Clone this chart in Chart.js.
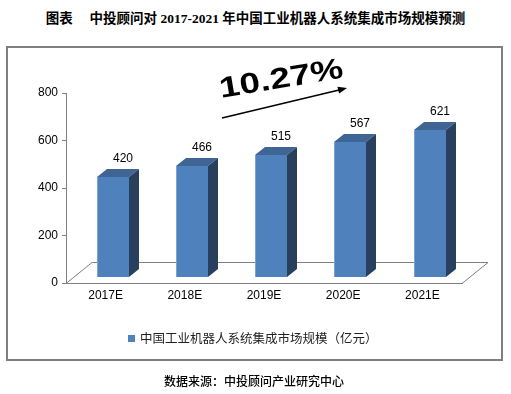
<!DOCTYPE html>
<html lang="zh-CN">
<head>
<meta charset="utf-8">
<title>中投顾问对 2017-2021 年中国工业机器人系统集成市场规模预测</title>
<script src="https://cdn.jsdelivr.net/npm/chart.js@4.4.1/dist/chart.umd.min.js"></script>
<style>
    html, body { margin: 0; padding: 0; background: #fff; }
    #wrap { position: relative; width: 511px; height: 394px; overflow: hidden; }
    #frame { position: absolute; left: 6px; top: 46px; width: 493px; height: 311px; border: 2px solid #7f7f7f; }
    #marketChart { position: absolute; left: 0; top: 0; }
    #title { position: absolute; left: 0; top: 9px; width: 511px; text-align: center; white-space: pre;
             font: bold 13.5px/20px "Liberation Serif", "Noto Sans CJK SC", serif; color: #000; }
    #legend { position: absolute; left: 128px; top: 330px; font: 12.5px/16px "Noto Sans CJK SC", sans-serif; color: #222; }
    #legend i { display: inline-block; width: 7px; height: 7px; margin-right: 5px; vertical-align: 1px; }
    #source { position: absolute; left: 164px; top: 373px; font: 500 12px/16px "Noto Sans CJK SC", sans-serif; color: #000; }
</style>
</head>
<body>
<div id="wrap">
    <div id="frame"></div>
    <div id="title">图表　 中投顾问对 2017-2021 年中国工业机器人系统集成市场规模预测</div>
    <canvas id="marketChart" width="511" height="394"></canvas>
    <div id="legend"></div>
    <div id="source">数据来源：中投顾问产业研究中心</div>
</div>
<script>
// Dati del grafico
const categories = ['2017E', '2018E', '2019E', '2020E', '2021E'];
const marketSize = [420, 466, 515, 567, 621];
const yTicks = [0, 200, 400, 600, 800];
const seriesLabel = '中国工业机器人系统集成市场规模（亿元）';
const growthLabel = '10.27%';

const FRONT = '#4f81bd';
const TOP = '#3f6594';
const SIDE = '#28405e';

// Plugin per le barre 3D e il pavimento
const bar3d = {
    id: 'bar3d',
    beforeDatasetsDraw: function(chart) {
        const ctx = chart.ctx;
        const a = chart.chartArea;
        ctx.save();
        ctx.strokeStyle = '#808080';
        ctx.lineWidth = 1;
        ctx.beginPath();
        ctx.moveTo(a.left, a.bottom + 0.5);
        ctx.lineTo(a.left + 26, a.bottom - 20.5);
        ctx.lineTo(a.right + 26, a.bottom - 20.5);
        ctx.lineTo(a.right, a.bottom + 0.5);
        ctx.stroke();
        ctx.restore();
    },
    afterDatasetsDraw: function(chart) {
        const ctx = chart.ctx;
        const meta = chart.getDatasetMeta(0);
        const values = chart.data.datasets[0].data;
        ctx.save();
        meta.data.forEach((el, i) => {
            const w = el.width;
            const x0 = Math.round(el.x - w / 2 + 7.5);
            const x1 = x0 + Math.round(w);
            const top = Math.round(el.y - 6);
            const bot = Math.round(el.base - 6);
            // faccia frontale
            ctx.fillStyle = FRONT;
            ctx.fillRect(x0, top, x1 - x0, bot - top);
            ctx.fillStyle = '#7fa3d0';
            ctx.fillRect(x0, top, 1, bot - top);
            // faccia superiore
            ctx.fillStyle = TOP;
            ctx.beginPath();
            ctx.moveTo(x0, top);
            ctx.lineTo(x0 + 10, top - 8);
            ctx.lineTo(x1 + 10, top - 8);
            ctx.lineTo(x1, top);
            ctx.closePath();
            ctx.fill();
            // faccia laterale
            ctx.fillStyle = SIDE;
            ctx.beginPath();
            ctx.moveTo(x1, top);
            ctx.lineTo(x1 + 10, top - 8);
            ctx.lineTo(x1 + 10, bot - 8);
            ctx.lineTo(x1, bot);
            ctx.closePath();
            ctx.fill();
            // etichetta valore
            ctx.fillStyle = '#000';
            ctx.font = '12px "Liberation Sans", Arial, sans-serif';
            ctx.textAlign = 'center';
            ctx.textBaseline = 'middle';
            ctx.fillText(String(values[i]), (x0 + x1) / 2 + 10, top - 18);
        });
        ctx.restore();
    },
    afterDraw: function(chart) {
        // Tasso di crescita con freccia
        const ctx = chart.ctx;
        ctx.save();
        ctx.translate(221, 98);
        ctx.rotate(-9.5 * Math.PI / 180);
        ctx.scale(1.27, 1);
        ctx.fillStyle = '#000';
        ctx.font = 'bold 29px "Liberation Sans", Arial, sans-serif';
        ctx.textAlign = 'left';
        ctx.textBaseline = 'alphabetic';
        ctx.fillText(growthLabel, 0, 0);
        ctx.restore();

        ctx.save();
        const x0 = 222, y0 = 118, x1 = 347, y1 = 88;
        const ang = Math.atan2(y1 - y0, x1 - x0);
        ctx.strokeStyle = '#000';
        ctx.fillStyle = '#000';
        ctx.lineWidth = 1.5;
        ctx.beginPath();
        ctx.moveTo(x0, y0);
        ctx.lineTo(x1 - 6 * Math.cos(ang), y1 - 6 * Math.sin(ang));
        ctx.stroke();
        ctx.translate(x1, y1);
        ctx.rotate(ang);
        ctx.beginPath();
        ctx.moveTo(0, 0);
        ctx.lineTo(-9, -3.5);
        ctx.lineTo(-9, 3.5);
        ctx.closePath();
        ctx.fill();
        ctx.restore();
    }
};

const MarketChart = {
    init: function() {
        this.setupChart();
        this.setupLegend();
    },

    setupChart: function() {
        const ctx = document.getElementById('marketChart');
        this.chart = new Chart(ctx, {
            type: 'bar',
            data: {
                labels: categories,
                datasets: [{
                    label: seriesLabel,
                    data: marketSize,
                    backgroundColor: 'rgba(0,0,0,0)',
                    borderWidth: 0,
                    categoryPercentage: 1,
                    barPercentage: 0.41
                }]
            },
            options: {
                responsive: false,
                animation: false,
                devicePixelRatio: 1,
                layout: { padding: { left: 0, right: 49, top: 93, bottom: 0 } },
                plugins: {
                    legend: { display: false },
                    tooltip: { enabled: false }
                },
                scales: {
                    x: {
                        grid: { display: false, drawTicks: false },
                        border: { display: true, color: '#808080', width: 1 },
                        ticks: {
                            color: '#000',
                            padding: 5,
                            font: { family: '"Liberation Sans", Arial, sans-serif', size: 12 }
                        },
                        afterFit: function(scale) { scale.height = 111; }
                    },
                    y: {
                        min: yTicks[0],
                        max: yTicks[yTicks.length - 1],
                        grid: { drawOnChartArea: false, drawTicks: true, tickLength: 4, color: '#808080' },
                        border: { display: true, color: '#808080', width: 1 },
                        ticks: {
                            stepSize: yTicks[1] - yTicks[0],
                            color: '#000',
                            padding: 4,
                            font: { family: '"Liberation Sans", Arial, sans-serif', size: 12 }
                        },
                        afterFit: function(scale) { scale.width = 66; }
                    }
                }
            },
            plugins: [bar3d]
        });
    },

    setupLegend: function() {
        // Legenda in HTML dal dataset
        const legend = document.getElementById('legend');
        this.chart.data.datasets.forEach(ds => {
            const item = document.createElement('span');
            item.innerHTML = '<i style="background:' + FRONT + '"></i>' + ds.label;
            legend.appendChild(item);
        });
    }
};

MarketChart.init();
</script>
</body>
</html>
